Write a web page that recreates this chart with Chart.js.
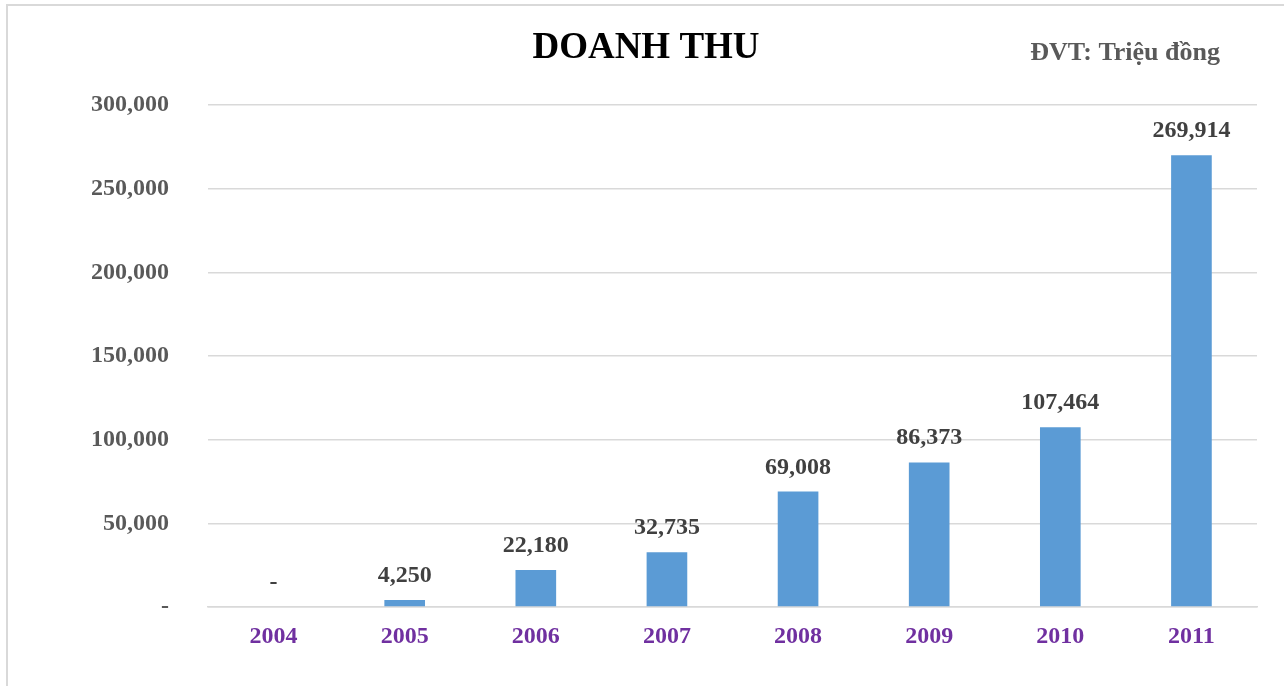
<!DOCTYPE html>
<html>
<head>
<meta charset="utf-8">
<script src="https://cdn.jsdelivr.net/npm/chart.js@4"></script>
<style>
    body { margin: 0; background: #fff; }
    #wrap { width: 1284px; height: 686px; }
</style>
</head>
<body>
<div id="wrap"><canvas id="myChart" width="1284" height="686"></canvas></div>
<script>
const years = ['2004', '2005', '2006', '2007', '2008', '2009', '2010', '2011']
const revenue = [0, 4250, 22180, 32735, 69008, 86373, 107464, 269914]
const chartTitle = 'DOANH THU'
const unitNote = 'ĐVT: Triệu đồng'

const serif = "'Liberation Serif', 'Times New Roman', serif"
const fmt = v => v === 0 ? '-' : v.toLocaleString('en-US')

// frame, title, unit note and value labels on top of bars
const extras = {
    id: 'extras',
    beforeDraw(chart) {
        const ctx = chart.ctx
        ctx.save()
        ctx.strokeStyle = '#d9d9d9'
        ctx.lineWidth = 2
        ctx.strokeRect(7, 5, 1300, 700)

        ctx.textBaseline = 'middle'
        ctx.font = 'bold 37px ' + serif
        ctx.fillStyle = '#000'
        ctx.textAlign = 'center'
        ctx.fillText(chartTitle, 646, 48)

        ctx.font = 'bold 26px ' + serif
        ctx.fillStyle = '#595959'
        ctx.textAlign = 'right'
        ctx.fillText(unitNote, 1220, 53)
        ctx.restore()
    },
    afterDatasetsDraw(chart) {
        const ctx = chart.ctx
        ctx.save()
        ctx.font = 'bold 24px ' + serif
        ctx.fillStyle = '#404040'
        ctx.textAlign = 'center'
        ctx.textBaseline = 'alphabetic'
        chart.getDatasetMeta(0).data.forEach((bar, i) => {
            ctx.fillText(fmt(revenue[i]), bar.x, bar.y - 18)
        })
        ctx.restore()
    }
}

new Chart(document.getElementById('myChart'), {
    type: 'bar',
    data: {
        labels: years,
        datasets: [{
            label: 'Doanh thu',
            data: revenue,
            backgroundColor: '#5B9BD5',
            borderWidth: 0,
            categoryPercentage: 1,
            barPercentage: 0.31
        }]
    },
    options: {
        responsive: false,
        animation: false,
        layout: { padding: { left: 0, right: 27, top: 105, bottom: 0 } },
        plugins: {
            legend: { display: false },
            tooltip: { enabled: false },
            title: { display: false }
        },
        scales: {
            x: {
                grid: { display: false, drawTicks: false },
                border: { color: '#d9d9d9', width: 1.5 },
                ticks: {
                    color: '#7030A0',
                    padding: 15,
                    font: { family: serif, size: 24, weight: 'bold' }
                },
                afterFit(scale) { scale.height = 79 }
            },
            y: {
                min: 0,
                max: 300000,
                grid: { color: '#d9d9d9', lineWidth: 1.5, drawTicks: false },
                border: { display: false },
                ticks: {
                    stepSize: 50000,
                    color: '#595959',
                    padding: 39,
                    font: { family: serif, size: 24, weight: 'bold' },
                    callback: v => fmt(v)
                },
                afterFit(scale) { scale.width = 208 }
            }
        }
    },
    plugins: [extras]
})
</script>
</body>
</html>
